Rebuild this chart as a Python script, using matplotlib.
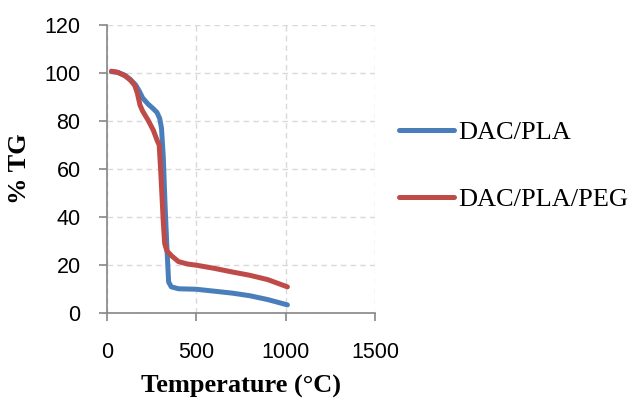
import matplotlib
matplotlib.use('Agg')
import matplotlib.pyplot as plt

# TGA curves
blue_x = [25, 60, 100, 130, 160, 180, 200, 230, 260, 280, 295, 305, 315, 325, 335, 345, 360, 400, 500, 600, 700, 800, 900, 1010]
blue_y = [100.5, 100.2, 99.0, 97.3, 95.0, 92.5, 89.5, 87.0, 85.0, 83.5, 81.0, 77.0, 65.0, 45.0, 28.0, 13.0, 11.0, 10.2, 10.0, 9.2, 8.4, 7.3, 5.7, 3.5]

red_x = [25, 60, 100, 130, 155, 170, 185, 200, 230, 260, 280, 292, 300, 307, 315, 323, 335, 360, 400, 450, 500, 600, 700, 800, 900, 1010]
red_y = [100.7, 100.2, 98.8, 97.0, 94.8, 91.5, 86.5, 84.0, 80.3, 76.0, 72.0, 70.0, 60.0, 50.0, 38.0, 29.0, 26.0, 24.0, 21.5, 20.5, 20.0, 18.7, 17.2, 15.8, 14.0, 11.0]

series_labels = ['DAC/PLA', 'DAC/PLA/PEG']
x_ticks = [0, 500, 1000, 1500]
y_ticks = [0, 20, 40, 60, 80, 100, 120]

fig = plt.figure(figsize=(6.28, 3.99), dpi=100)
ax = fig.add_axes([0.1704, 0.2148, 0.4266, 0.7232])

ax.plot(blue_x, blue_y, color='#4A7EBB', lw=3.6, solid_capstyle='round',
        solid_joinstyle='round', label=series_labels[0], zorder=3)
ax.plot(red_x, red_y, color='#BE4B48', lw=3.6, solid_capstyle='round',
        solid_joinstyle='round', label=series_labels[1], zorder=4)

ax.set_xlim(0, 1500)
ax.set_ylim(0, 120)
ax.set_xticks(x_ticks)
ax.set_yticks(y_ticks)

ax.grid(True, color='#D9D9D9', linestyle=(0, (4, 3)), linewidth=1.0, zorder=0)
ax.set_axisbelow(True)
for s in ['top', 'right']:
    ax.spines[s].set_visible(False)
for s in ['left', 'bottom']:
    ax.spines[s].set_color('#868686')
    ax.spines[s].set_linewidth(1.2)

ax.tick_params(axis='both', direction='out', length=6, width=1.2, color='#868686')
ax.tick_params(axis='x', pad=15)
ax.tick_params(axis='y', pad=13)
for lab in ax.get_xticklabels() + ax.get_yticklabels():
    lab.set_fontfamily('Liberation Sans')
    lab.set_fontsize(15.5)

ax.set_xlabel('Temperature (°C)', fontfamily='Liberation Serif', fontweight='bold',
              fontsize=19, labelpad=8)
ax.set_ylabel('% TG', fontfamily='Liberation Serif', fontweight='bold',
              fontsize=19, labelpad=10)

fig.legend(loc='center left', bbox_to_anchor=(0.635, 0.585), frameon=False,
           borderpad=0, borderaxespad=0, handlelength=2.1, handletextpad=0.15,
           labelspacing=1.65, prop={'family': 'Liberation Serif', 'size': 19})

fig.savefig('out.png', dpi=100, facecolor='white')
